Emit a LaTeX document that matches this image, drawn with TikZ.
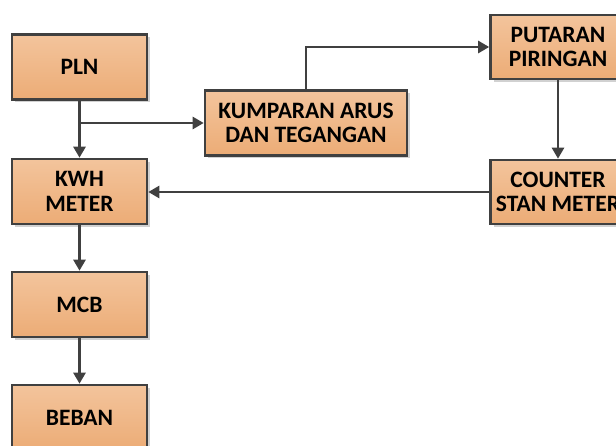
\documentclass[tikz,border=0pt]{standalone}
\usepackage{fontspec}
\setmainfont{Carlito}
\usetikzlibrary{positioning}
\usetikzlibrary{arrows.meta}
\usetikzlibrary{shadows}
\definecolor{boxtop}{RGB}{243,196,156}
\definecolor{boxbottom}{RGB}{236,172,118}
\definecolor{linegray}{RGB}{64,64,64}

\begin{document}
\begin{tikzpicture}[
    x=1pt, y=-1pt,
    block/.style={rectangle, draw=linegray, line width=2.6pt, top color=boxtop, bottom color=boxbottom,
        minimum width=135pt, minimum height=65pt, align=center, inner sep=0pt,
        font=\fontsize{23.5}{24.3}\selectfont\bfseries,
        drop shadow={shadow xshift=3pt, shadow yshift=-3pt, fill=black!18, opacity=1}},
    arrow/.style={-{Triangle[length=11pt, width=12pt]}, line width=2.6pt, draw=linegray}
]
\useasboundingbox (0,0) rectangle (616,446);

% Left column
\node[block] (pln) at (79.5,67) {PLN};
\node[block] (kwh) at (79.5,191.5) {KWH\\METER};
\node[block] (mcb) at (79.5,304.5) {MCB};
\node[block] (beban) at (79.5,417.5) {BEBAN};

% Middle and right
\node[block, minimum width=202pt] (kumparan) at (306,123) {KUMPARAN ARUS\\DAN TEGANGAN};
\node[block, minimum height=64pt] (putaran) at (558,47) {PUTARAN\\PIRINGAN};
\node[block, minimum height=64pt] (counter) at (558,192) {COUNTER\\STAN METER};

\coordinate (split) at (pln.south |- kumparan.west);

% Arrows
\draw[arrow] (pln) -- (kwh);
\draw[arrow] (split) -- (kumparan.west);
\draw[arrow] (kumparan.north) |- (putaran.west);
\draw[arrow] (putaran) -- (counter);
\draw[arrow] (counter.west) -- (kwh.east |- counter.west);
\draw[arrow] (kwh) -- (mcb);
\draw[arrow] (mcb) -- (beban);

\end{tikzpicture}
\end{document}
